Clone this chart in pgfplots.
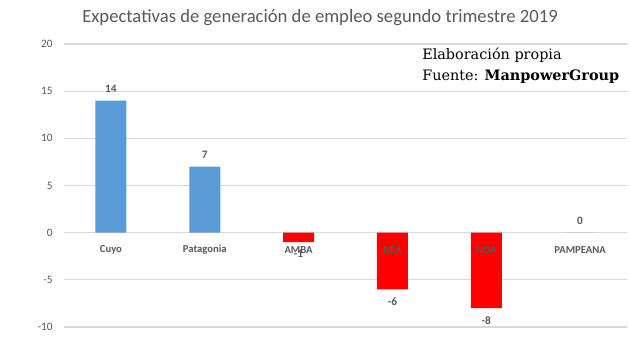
\documentclass[border=0pt]{standalone}
\usepackage{pgfplots}
\pgfplotsset{compat=1.18}
\usepackage{fontspec}
\setmainfont{Carlito}
\newfontfamily\notefont{DejaVu Serif}
\definecolor{txtgray}{HTML}{595959}
\definecolor{gridgray}{HTML}{D9D9D9}
\definecolor{xlblue}{HTML}{5B9BD5}
\definecolor{xlred}{HTML}{FF0000}
\pgfplotsset{
  mybase/.style={
    at={(48pt,19.5pt)}, anchor=south west,
    scale only axis, width=422.25pt, height=212.25pt,
    xmin=-0.5, xmax=5.5, ymin=-10, ymax=20,
    axis line style={draw=none},
    major tick length=0pt,
    clip=false,
  }
}
\begin{document}
\begin{tikzpicture}[x=1pt,y=1pt]
\path[use as bounding box] (0,0) rectangle (472.5,264.75);
\begin{axis}[
  mybase,
  ytick={-10,-5,0,5,10,15,20},
  xtick=\empty,
  ymajorgrids, grid style={gridgray, line width=0.8pt},
  /pgf/number format/assume math mode=true,
  yticklabel style={font=\fontsize{8.5}{10}\selectfont, text=txtgray, anchor=east, xshift=-5pt},
  ybar, bar width=23.25pt, bar shift=0pt,
  nodes near coords,
  every node near coord/.append style={font=\bfseries\fontsize{8.5}{10}\selectfont, text=txtgray, inner sep=6pt},
]
\addplot[fill=xlblue, draw=none] coordinates {(0,14) (1,7) (5,0)};
\addplot[fill=xlred, draw=none] coordinates {(2,-1) (3,-6) (4,-8)};
\end{axis}
\begin{axis}[
  mybase,
  ytick=\empty,
  xtick={0,1,2,3,4,5},
  xticklabels={Cuyo,Patagonia,AMBA,NEA,NOA,PAMPEANA},
  xticklabel style={font=\bfseries\fontsize{8}{10}\selectfont, text=txtgray, anchor=center, yshift=58pt},
]
\end{axis}
\node[text=txtgray, font=\fontsize{14}{17}\selectfont] at (240,251.25) {Expectativas de generación de empleo segundo trimestre 2019};
\node[anchor=base west, inner sep=0pt, font=\notefont\fontsize{10.8}{12}\selectfont] at (316.5,219.75) {Elaboración propia};
\node[anchor=base west, inner sep=0pt, font=\notefont\fontsize{10.8}{12}\selectfont] at (316.5,204) {Fuente: \textbf{ManpowerGroup}};
\end{tikzpicture}
\end{document}
